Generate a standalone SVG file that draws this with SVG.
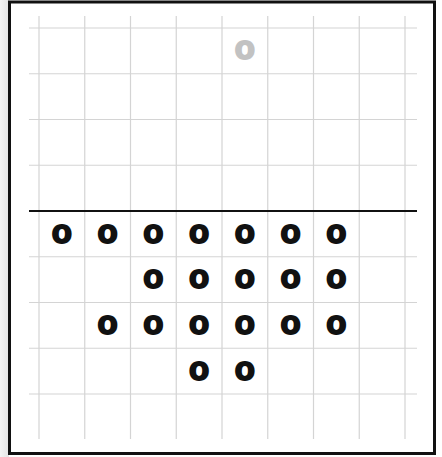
<svg xmlns="http://www.w3.org/2000/svg" width="442" height="457" viewBox="0 0 442 457">
  <defs>
    <linearGradient id="shadow" x1="0" y1="0" x2="1" y2="0">
      <stop offset="0" stop-color="#f4f4f4"/>
      <stop offset="1" stop-color="#e4e4e4"/>
    </linearGradient>
  </defs>
  <style>
    .grid { stroke: #d4d4d4; stroke-width: 1.2; fill: none; }
    .axis { stroke: #111; stroke-width: 2; fill: none; }
    .frame { stroke: #111; stroke-width: 3; fill: #fff; }
    .o { font-family: "Liberation Sans", Arial, sans-serif; font-weight: bold; font-size: 33px; text-anchor: middle; fill: #111; stroke: #111; stroke-width: 1.9; stroke-linejoin: round; }
    .o.ghost { fill: #c2c2c2; stroke: #c2c2c2; }
  </style>
  <rect x="0" y="0" width="442" height="457" fill="#ffffff"/>
  <rect x="0" y="0" width="9" height="457" fill="url(#shadow)"/>
  <rect class="frame" x="9.5" y="2" width="425" height="451.5"/>
  <g id="grid">
    <line class="grid" x1="39" y1="16" x2="39" y2="439"/>
    <line class="grid" x1="84.75" y1="16" x2="84.75" y2="439"/>
    <line class="grid" x1="130.5" y1="16" x2="130.5" y2="439"/>
    <line class="grid" x1="176.25" y1="16" x2="176.25" y2="439"/>
    <line class="grid" x1="222" y1="16" x2="222" y2="439"/>
    <line class="grid" x1="267.75" y1="16" x2="267.75" y2="439"/>
    <line class="grid" x1="313.5" y1="16" x2="313.5" y2="439"/>
    <line class="grid" x1="359.25" y1="16" x2="359.25" y2="439"/>
    <line class="grid" x1="405" y1="16" x2="405" y2="439"/>
    <line class="grid" x1="29" y1="28" x2="417" y2="28"/>
    <line class="grid" x1="29" y1="73.75" x2="417" y2="73.75"/>
    <line class="grid" x1="29" y1="119.5" x2="417" y2="119.5"/>
    <line class="grid" x1="29" y1="165.25" x2="417" y2="165.25"/>
    <line class="grid" x1="29" y1="256.75" x2="417" y2="256.75"/>
    <line class="grid" x1="29" y1="302.5" x2="417" y2="302.5"/>
    <line class="grid" x1="29" y1="348.25" x2="417" y2="348.25"/>
    <line class="grid" x1="29" y1="394" x2="417" y2="394"/>
  </g>
  <g id="connectors">
    <line class="axis" x1="29" y1="211" x2="417" y2="211"/>
  </g>
  <g id="ghost">
    <text class="o ghost" x="244.9" y="58.8">o</text>
  </g>
  <g id="row1">
    <text class="o" x="61.9" y="242.5">o</text>
    <text class="o" x="107.6" y="242.5">o</text>
    <text class="o" x="153.4" y="242.5">o</text>
    <text class="o" x="199.1" y="242.5">o</text>
    <text class="o" x="244.9" y="242.5">o</text>
    <text class="o" x="290.6" y="242.5">o</text>
    <text class="o" x="336.4" y="242.5">o</text>
  </g>
  <g id="row2">
    <text class="o" x="153.4" y="288.2">o</text>
    <text class="o" x="199.1" y="288.2">o</text>
    <text class="o" x="244.9" y="288.2">o</text>
    <text class="o" x="290.6" y="288.2">o</text>
    <text class="o" x="336.4" y="288.2">o</text>
  </g>
  <g id="row3">
    <text class="o" x="107.6" y="334">o</text>
    <text class="o" x="153.4" y="334">o</text>
    <text class="o" x="199.1" y="334">o</text>
    <text class="o" x="244.9" y="334">o</text>
    <text class="o" x="290.6" y="334">o</text>
    <text class="o" x="336.4" y="334">o</text>
  </g>
  <g id="row4">
    <text class="o" x="199.1" y="379.7">o</text>
    <text class="o" x="244.9" y="379.7">o</text>
  </g>
</svg>
